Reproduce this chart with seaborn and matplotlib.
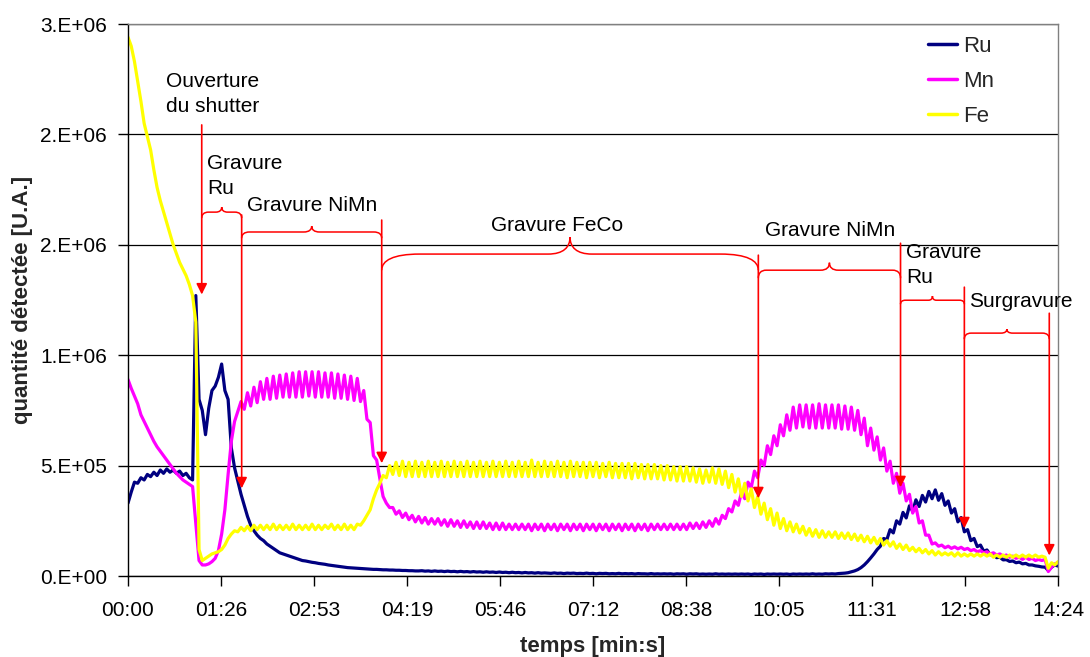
import numpy as np
import pandas as pd
import matplotlib
matplotlib.use("Agg")
import matplotlib.pyplot as plt
from matplotlib.path import Path
from matplotlib.patches import PathPatch
import seaborn as sns

# ---------------- data (values in units of 1e4 counts, one sample every 3 s) ----------------
time_step_s = 3
value_unit = 1e4

ru = [
    33, 38, 42.5, 42, 44.5, 43.5, 46, 45, 47, 45.5,
    48, 46.5, 48.5, 47, 48, 46.5, 47.5, 45.5, 46.5, 44.5,
    43.5, 127, 80, 75, 64, 76, 84, 86, 90, 96,
    84, 80, 58, 49, 43, 37, 32, 27, 23, 20.5,
    18.5, 17, 16, 14.5, 13.5, 12.5, 11.5, 10.5, 10, 9.5,
    9, 8.5, 8, 7.5, 7, 6.8, 6.5, 6.2, 6, 5.7,
    5.5, 5.3, 5, 4.8, 4.6, 4.4, 4.2, 4, 3.8, 3.7,
    3.6, 3.5, 3.4, 3.3, 3.2, 3.1, 3, 3, 2.9, 2.8,
    2.8, 2.7, 2.7, 2.6, 2.6, 2.5, 2.5, 2.4, 2.4, 2.3,
    2.3, 2.4, 2.2, 2.3, 2.1, 2.3, 2.1, 2.2, 2, 2.2,
    2, 2.1, 1.9, 2.1, 1.9, 2, 1.8, 2, 1.8, 1.9,
    1.7, 1.9, 1.7, 1.8, 1.6, 1.8, 1.6, 1.7, 1.5, 1.7,
    1.5, 1.6, 1.4, 1.6, 1.4, 1.5, 1.3, 1.5, 1.3, 1.4,
    1.3, 1.2, 1.4, 1.2, 1.3, 1.1, 1.3, 1.2, 1.3, 1.1,
    1.2, 1.1, 1.3, 1.1, 1.2, 1.0, 1.2, 1.1, 1.2, 1.0,
    1.1, 1.0, 1.2, 1.0, 1.1, 1.0, 1.1, 0.9, 1.1, 1.0,
    1.0, 0.9, 1.1, 0.9, 1.0, 0.9, 1.0, 0.9, 1.0, 0.8,
    1.0, 0.9, 1.0, 0.8, 1.0, 0.9, 1.0, 0.8, 0.9, 0.8,
    0.9, 0.8, 1.0, 0.8, 0.9, 0.8, 0.9, 0.8, 0.9, 0.8,
    0.9, 0.8, 0.9, 0.7, 0.9, 0.8, 0.9, 0.7, 0.9, 0.8,
    0.9, 0.8, 0.9, 0.8, 0.9, 0.7, 0.9, 0.8, 0.9, 0.8,
    0.9, 0.8, 1.0, 0.8, 0.9, 0.8, 1.0, 0.9, 1.0, 0.9,
    1.1, 1.2, 1.3, 1.5, 1.9, 2.3, 2.9, 3.8, 5, 6.5,
    8.2, 10, 12, 13.5, 17, 16.5, 21, 19.5, 25, 23.5,
    28.8, 26.3, 31.8, 29.3, 34.5, 31.5, 36.5, 33.5, 38.3, 35,
    39, 34.3, 37.3, 32, 34, 28.5, 30.5, 24.5, 26.5, 20,
    21, 16, 17, 13.3, 14, 11.2, 11.8, 9.6, 10, 8.3,
    8.5, 7.3, 7.4, 6.6, 6.8, 6, 6.3, 5.5, 5.7, 5,
    5, 4.6, 4.4, 4.1, 4, 2.5, 4, 5, 4.5,
]

mn = [
    89, 85, 81.5, 78, 73, 70, 67, 64, 61, 58.5,
    56.5, 54.5, 52.5, 50.5, 48.5, 46.5, 45, 43.5, 42.5, 41.5,
    40.5, 24, 7, 5, 5, 5.5, 6.5, 8, 11.5, 19,
    30, 46, 61, 70, 74.5, 79, 75.5, 83, 77, 85.5,
    78.5, 88, 80, 89.5, 80, 90.5, 80.5, 91, 81, 91.5,
    81, 92, 81, 92.5, 81, 92.5, 81.5, 92.5, 81, 92.5,
    81, 92, 81, 92, 80.5, 91.5, 80.5, 91, 80, 90.5,
    79.5, 89.5, 79, 84, 71, 69.5, 54.5, 52.5, 44, 36,
    33, 31, 31, 28, 29.5, 26.5, 28.5, 25.5, 27.5, 24.5,
    27, 24, 26.5, 23.5, 26, 23.5, 26, 23, 25.5, 22.5,
    25.5, 22.5, 25, 22, 25, 22, 24.5, 21.5, 24.5, 21.5,
    24.5, 21.5, 24, 21, 24, 21, 24, 21, 23.5, 21,
    23.5, 21, 23.5, 21, 23.5, 20.5, 23.5, 21, 23.5, 20.5,
    23.5, 21, 23.5, 20.5, 23.5, 21, 23.5, 20.5, 23.5, 21,
    23.5, 20.5, 23.5, 21, 23.5, 20.5, 23.5, 21, 23.5, 20.5,
    23.5, 21, 23.5, 20.5, 23.5, 21, 23.5, 20.5, 23.5, 21,
    23.5, 20.5, 23.5, 21, 23.5, 21, 23.5, 21, 23.5, 21,
    23.5, 21, 23.5, 21, 24, 21.5, 24, 21.5, 24.5, 22,
    25, 22.5, 26, 23.5, 27.5, 26, 30.5, 29, 34, 32,
    38, 35, 42.5, 40, 47.5, 44.5, 52.5, 50, 59, 55,
    63.5, 59, 68.5, 63.5, 73, 66, 76.5, 67, 77.5, 67.5,
    77.5, 67, 77.5, 67, 78, 67, 77.5, 67, 77.5, 67,
    77.5, 66.5, 77, 66.5, 76.5, 66, 75, 64, 71.5, 59,
    67, 57, 63, 52.5, 58, 47.5, 52, 42, 46.5, 37.5,
    42, 34, 37, 28.5, 31.5, 24, 25, 18.5, 18.5, 14.5,
    15, 13.5, 14, 12.8, 13.5, 12.5, 13.2, 12.3, 13, 12,
    12.5, 11.5, 12, 11, 11.5, 10.5, 11, 10, 10.5, 9.5,
    10, 9, 9.5, 8.5, 9, 8, 8.5, 7.5, 8.5, 7.5,
    8, 7, 7.5, 7, 7.5, 2, 4, 5.5, 6,
]

fe = [
    244, 240, 233, 224, 215, 205, 199, 193, 184, 176,
    170, 165, 160, 155, 150, 146, 142, 139, 136, 132,
    127, 115, 12, 7, 8, 9, 10, 10.5, 11, 12,
    14, 17, 19, 20.5, 20, 22, 20.5, 22.5, 20.5, 23,
    21, 23, 21, 23, 21, 23.5, 21, 23, 21, 23,
    21, 23.5, 21, 23, 21, 23, 21, 23.5, 21, 23,
    21, 23, 21.5, 23.5, 21, 23, 21, 23.5, 21, 23,
    21, 23.5, 23, 25, 27.5, 30, 35, 39, 42, 45.5,
    44.5, 50, 46, 51.5, 45.5, 52, 45, 51.5, 45, 52,
    45, 51.5, 45, 52, 45, 51.5, 45, 52, 45, 51.5,
    45, 52, 45, 51.5, 45, 52, 45, 51.5, 45, 52,
    45, 51.5, 45, 52, 45, 51.5, 45, 52, 45, 51.5,
    45, 52, 45, 51.5, 45, 52.5, 45, 51.5, 45, 52,
    45, 51.5, 45, 52, 45, 51.5, 44.5, 52, 45, 51.5,
    45, 51.5, 44.5, 51.5, 45, 51.5, 44.5, 51, 45, 51.5,
    44.5, 51, 44.5, 51, 44.5, 51, 44, 51, 44.5, 50.5,
    44, 50.5, 44, 50.5, 44, 50, 43.5, 50, 43.5, 49.5,
    43, 49.5, 43, 49.5, 43, 49, 42.5, 48.5, 42, 48,
    42.5, 49, 42, 48.5, 41.5, 47.5, 40, 46, 38, 44,
    36, 42, 34, 39.5, 31, 36, 28, 33, 25.5, 30.5,
    23, 28.5, 21.5, 26, 20.5, 24.5, 20, 23.5, 19.5, 22.5,
    18.5, 21.5, 18, 21, 17.5, 20.5, 17.5, 20, 17.5, 20,
    17, 19.5, 17, 19.5, 16.5, 19, 16, 18.5, 15.5, 18,
    15, 17.5, 14.5, 17, 14, 16, 13.5, 15.5, 12.5, 14.5,
    12, 14, 11.5, 13, 11, 12.5, 10.5, 12, 10, 11.5,
    9.5, 11, 9.5, 10.5, 9.5, 10.5, 9, 10.5, 9, 10,
    9, 10, 9, 10, 9, 10, 9, 10, 8.5, 9.5,
    8.5, 9.5, 8.5, 9.5, 8.5, 9.5, 8.5, 9.5, 8.5, 9.5,
    8.5, 9.5, 8.5, 9, 8.5, 3.5, 6, 5, 6.5,
]

series_names = ["Ru", "Mn", "Fe"]
series_colors = ["#000080", "#FF00FF", "#FFFF00"]

x_tick_labels = ["00:00", "01:26", "02:53", "04:19", "05:46", "07:12",
                 "08:38", "10:05", "11:31", "12:58", "14:24"]
y_tick_labels = ["0.E+00", "5.E+05", "1.E+06", "2.E+06", "2.E+06", "3.E+06"]

assert len(ru) == len(mn) == len(fe)

# ---------------- figure ----------------
sns.set_style("white")
plt.rcParams["font.family"] = ["Liberation Sans", "DejaVu Sans"]

W, H = 1090, 657
fig = plt.figure(figsize=(W / 100, H / 100), dpi=100)
ax = fig.add_axes([128 / W, 1 - 576 / H, 930 / W, 552 / H])

n = len(fe)
time_s = np.arange(n) * time_step_s
df = pd.DataFrame({
    "temps": np.concatenate([time_s] * 3),
    "valeur": np.concatenate([np.asarray(ru), np.asarray(mn), np.asarray(fe)]) * value_unit,
    "serie": np.repeat(series_names, n),
})

sns.lineplot(data=df, x="temps", y="valeur", hue="serie", hue_order=series_names,
             palette=series_colors, estimator=None, linewidth=2.3, ax=ax, legend=True)

# axes
t_max = 864
ax.set_xlim(0, t_max)
ax.set_ylim(0, 2.5e6)
ax.set_xticks(np.linspace(0, t_max, len(x_tick_labels)))
ax.set_xticklabels(x_tick_labels)
ax.set_yticks(np.linspace(0, 2.5e6, len(y_tick_labels)))
ax.set_yticklabels(y_tick_labels)
ax.tick_params(axis="both", which="major", direction="out", length=7, width=1,
               color="black", labelsize=15, labelcolor="black", bottom=True, left=True)
ax.tick_params(axis="x", pad=11)
ax.tick_params(axis="y", pad=8)
ax.grid(axis="y", color="black", linewidth=0.9)
ax.grid(axis="x", visible=False)
ax.set_axisbelow(True)
for side in ("left", "bottom"):
    ax.spines[side].set_color("black")
    ax.spines[side].set_linewidth(1)
for side in ("top", "right"):
    ax.spines[side].set_color("#808080")
    ax.spines[side].set_linewidth(1)

ax.set_xlabel("temps [min:s]", fontsize=16, fontweight="bold")
ax.set_ylabel("quantité détectée [U.A.]", fontsize=16, fontweight="bold")
ax.xaxis.set_label_coords(0.5, -0.108)
ax.yaxis.set_label_coords(-0.102, 0.5)

# legend
old = ax.get_legend()
handles = list(old.legend_handles)
labels = [t.get_text() for t in old.get_texts()]
old.remove()
leg = ax.legend(handles, labels, loc="upper left", bbox_to_anchor=(928 / W, 1 - 36 / H),
                bbox_transform=fig.transFigure, frameon=False, fontsize=16,
                handlelength=1.3, handletextpad=0.3, labelspacing=0.62,
                borderpad=0, borderaxespad=0)
for h in leg.legend_handles:
    h.set_linewidth(2.5)

# ---------------- annotations (red arrows and braces) ----------------
red = "#FF0000"
px_t = t_max / 930.0  # seconds per pixel

arrows = [  # (time s, top value, tip value)
    (68.5, 2.043e6, 1.275e6),
    (105.6, 1.635e6, 0.397e6),
    (235.7, 1.612e6, 0.511e6),
    (585.6, 1.453e6, 0.352e6),
    (717.7, 1.507e6, 0.402e6),
    (777.0, 1.308e6, 0.216e6),
    (855.9, 1.190e6, 0.093e6),
]
for t, top, tip in arrows:
    ax.annotate("", xy=(t, tip), xytext=(t, top),
                arrowprops=dict(arrowstyle="-|>", color=red, lw=1.2,
                                mutation_scale=16, shrinkA=0, shrinkB=0),
                zorder=6)

braces = [  # (t0, t1, y line, y tip, y ends, end radius px, mid radius px)
    (68.5, 105.6, 1.648e6, 1.671e6, 1.621e6, 7, 6),
    (105.6, 235.7, 1.558e6, 1.585e6, 1.530e6, 8, 8),
    (235.7, 585.6, 1.458e6, 1.535e6, 1.385e6, 38, 22),
    (585.6, 717.7, 1.385e6, 1.419e6, 1.349e6, 8, 9),
    (717.7, 777.0, 1.249e6, 1.268e6, 1.231e6, 5, 4),
    (777.0, 855.9, 1.100e6, 1.118e6, 1.073e6, 7, 6),
]
for x0, x1, yh, ytip, yend, re_px, rm_px in braces:
    re_ = re_px * px_t
    rm = rm_px * px_t
    xm = 0.5 * (x0 + x1)
    verts = [
        (x0, yend),
        (x0, yend + 0.6 * (yh - yend)), (x0 + 0.3 * re_, yh), (x0 + re_, yh),
        (xm - rm, yh),
        (xm - 0.3 * rm, yh), (xm, yh + 0.4 * (ytip - yh)), (xm, ytip),
        (xm, yh + 0.4 * (ytip - yh)), (xm + 0.3 * rm, yh), (xm + rm, yh),
        (x1 - re_, yh),
        (x1 - 0.3 * re_, yh), (x1, yend + 0.6 * (yh - yend)), (x1, yend),
    ]
    codes = [Path.MOVETO,
             Path.CURVE4, Path.CURVE4, Path.CURVE4,
             Path.LINETO,
             Path.CURVE4, Path.CURVE4, Path.CURVE4,
             Path.CURVE4, Path.CURVE4, Path.CURVE4,
             Path.LINETO,
             Path.CURVE4, Path.CURVE4, Path.CURVE4]
    ax.add_patch(PathPatch(Path(verts, codes), facecolor="none", edgecolor=red,
                           lw=1.1, zorder=6, clip_on=False))

texts = [  # (t, value, text, ha)
    (35.3, 2.181e6, "Ouverture\ndu shutter", "left"),
    (73.4, 1.810e6, "Gravure\nRu", "left"),
    (110.6, 1.680e6, "Gravure NiMn", "left"),
    (398.6, 1.589e6, "Gravure FeCo", "center"),
    (591.8, 1.567e6, "Gravure NiMn", "left"),
    (722.8, 1.408e6, "Gravure\nRu", "left"),
    (781.3, 1.245e6, "Surgravure", "left"),
]
for t, v, s, ha in texts:
    ax.text(t, v, s, ha=ha, va="center", fontsize=15, color="black",
            linespacing=1.4, zorder=7)

fig.savefig("out.png", dpi=100, facecolor="white")
